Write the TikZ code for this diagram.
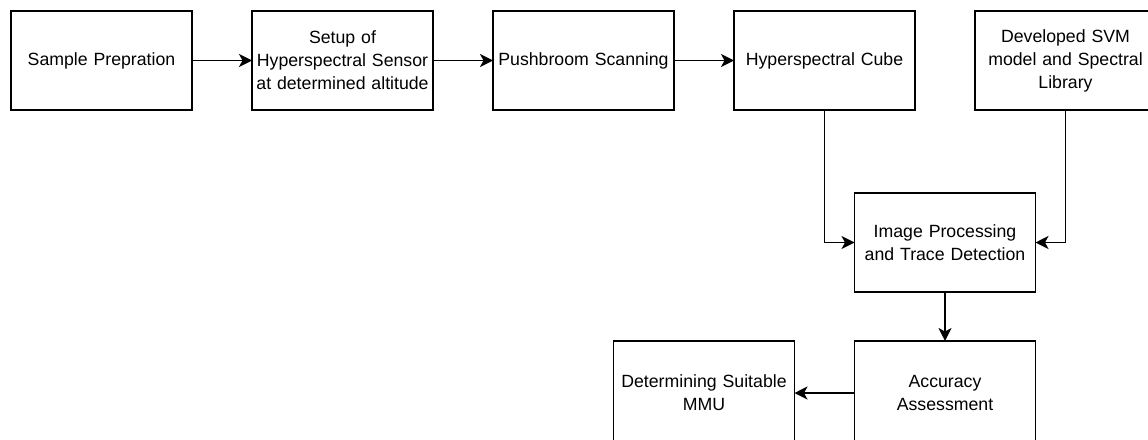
\documentclass[tikz,border=0pt]{standalone}
\usepackage{fontspec}
\setmainfont{Liberation Sans}
\usetikzlibrary{positioning,calc,arrows.meta}
\begin{document}
\begin{tikzpicture}[node distance=60pt,
    box/.style={
        rectangle,
        draw=black, line width=1.4pt,
        minimum width=181pt,
        minimum height=99pt,
        text width=177pt,
        inner sep=2pt,
        outer sep=0pt,
        align=center,
        font=\fontsize{17.7}{23}\selectfont},
    arrow/.style={
        line width=1.5pt,
        -{Stealth[length=13pt,width=13pt,inset=3.5pt]}}
    ]

    \useasboundingbox (0,0) rectangle (1148pt,-439pt);

    \node (sample) [box] at (101.5pt,-60.5pt) {Sample Prepration};
    \node (setup) [box, right=of sample] {Setup of\\Hyperspectral Sensor\\at determined altitude};
    \node (scan) [box, right=of setup] {Pushbroom Scanning};
    \node (cube) [box, right=of scan] {Hyperspectral Cube};
    \node (library) [box, right=of cube] {Developed SVM\\model and Spectral\\Library};
    \node (detect) [box, anchor=north] at ($(cube.south)!0.5!(library.south)+(0,-83pt)$) {Image Processing\\and Trace Detection};
    \node (accuracy) [box, minimum height=104pt, below=49pt of detect] {Accuracy\\Assessment};
    \node (mmu) [box, minimum height=104pt, left=of accuracy] {Determining Suitable\\MMU};

    \draw [arrow] (sample) -- (setup);
    \draw [arrow] (setup) -- (scan);
    \draw [arrow] (scan) -- (cube);
    \draw [arrow] (cube.south) |- (detect.west);
    \draw [arrow] (library.south) |- (detect.east);
    \draw [arrow] (detect) -- (accuracy);
    \draw [arrow] (accuracy) -- (mmu);

\end{tikzpicture}
\end{document}
